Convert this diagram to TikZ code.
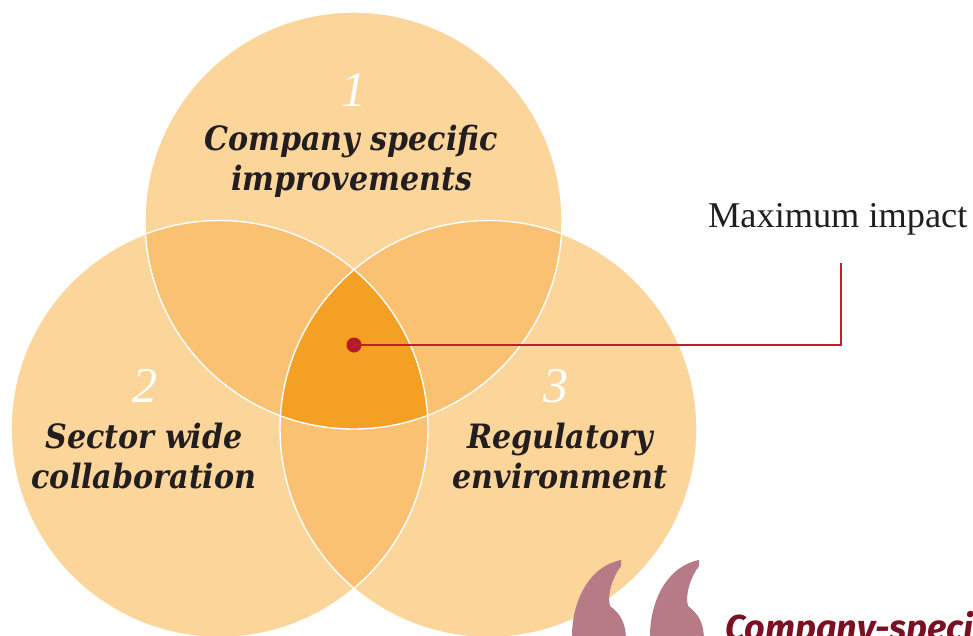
\documentclass[tikz,border=0pt]{standalone}
\usepackage{fontspec}
\setmainfont{DejaVu Serif}
\newfontfamily\headfont{DejaVu Serif Condensed}
\newfontfamily\numfont{Liberation Serif}
\newfontfamily\labfont{Liberation Serif}
\newfontfamily\quotefont{Fira Sans}
\definecolor{vlight}{RGB}{252,213,155}
\definecolor{vmid}{RGB}{250,193,114}
\definecolor{vdark}{RGB}{243,160,36}
\definecolor{txtdark}{RGB}{34,30,31}
\definecolor{linered}{RGB}{190,32,48}
\definecolor{dotred}{RGB}{181,25,47}
\definecolor{quotepink}{RGB}{182,123,135}
\definecolor{quotered}{RGB}{123,16,35}
\tikzset{
  head/.style={anchor=base, inner sep=0pt, text=txtdark, font=\headfont\bfseries\itshape\fontsize{33.5}{33.5}\selectfont},
  num/.style={anchor=base, inner sep=0pt, text=white, font=\numfont\itshape\fontsize{50}{50}\selectfont},
  outline/.style={draw=white, line width=1.4pt},
  callout/.style={draw=linered, line width=1.1pt},
  quotemark/.style={fill=quotepink, draw=none},
}
\begin{document}
\begin{tikzpicture}[x=1pt,y=-1pt]
\useasboundingbox (0,0) rectangle (973,635);
\clip (0,0) rectangle (973,635);
\coordinate (T) at (353.5,220.5);
\coordinate (L) at (219.5,429);
\coordinate (R) at (488.5,429);
\def\rad{208.5pt}
% base circles
\fill[vlight] (T) circle[radius=\rad];
\fill[vlight] (L) circle[radius=\rad];
\fill[vlight] (R) circle[radius=\rad];
% pairwise overlaps
\begin{scope}
  \clip (T) circle[radius=\rad];
  \fill[vmid] (L) circle[radius=\rad];
  \fill[vmid] (R) circle[radius=\rad];
\end{scope}
\begin{scope}
  \clip (L) circle[radius=\rad];
  \fill[vmid] (R) circle[radius=\rad];
\end{scope}
% triple overlap
\begin{scope}
  \clip (T) circle[radius=\rad];
  \clip (L) circle[radius=\rad];
  \fill[vdark] (R) circle[radius=\rad];
\end{scope}
% white outlines
\draw[outline] (T) circle[radius=\rad];
\draw[outline] (L) circle[radius=\rad];
\draw[outline] (R) circle[radius=\rad];

% labels
\node[num] (n1) at (354,106) {1};
\node[head] (h1a) at (351,150) {Company specific};
\node[head] (h1b) at (352,190) {improvements};
\node[num] (n2) at (145,402) {2};
\node[head] (h2a) at (144,448) {Sector wide};
\node[head] (h2b) at (144,488) {collaboration};
\node[num] (n3) at (556,402) {3};
\node[head] (h3a) at (560,448) {Regulatory};
\node[head] (h3b) at (560,488) {environment};

% callout
\node[circle, fill=dotred, inner sep=0pt, minimum size=15pt] (dot) at (354,345) {};
\coordinate (corner) at (841,345);
\coordinate (lineend) at (841,263);
\draw[callout] (dot.center) -- (corner) -- (lineend);
\node[anchor=base west, inner sep=0pt, text=txtdark, font=\labfont\fontsize{36.3}{36.3}\selectfont] (maxi) at (708,227) {Maximum impact};

% quote marks
\path[quotemark] (621,560) -- (621,566) .. controls (612,578) and (607,595) .. (610,606)
  .. controls (621,614) and (626,624) .. (626,640) -- (572,640)
  .. controls (571,600) and (590,566) .. (621,560) -- cycle;
\begin{scope}[xshift=78pt]
\path[quotemark] (621,560) -- (621,566) .. controls (612,578) and (607,595) .. (610,606)
  .. controls (621,614) and (626,624) .. (626,640) -- (572,640)
  .. controls (571,600) and (590,566) .. (621,560) -- cycle;
\end{scope}
\node[anchor=base west, inner sep=0pt, text=quotered, font=\quotefont\bfseries\itshape\fontsize{36}{36}\selectfont] (quote) at (725,640) {Company-specific};
\end{tikzpicture}
\end{document}
